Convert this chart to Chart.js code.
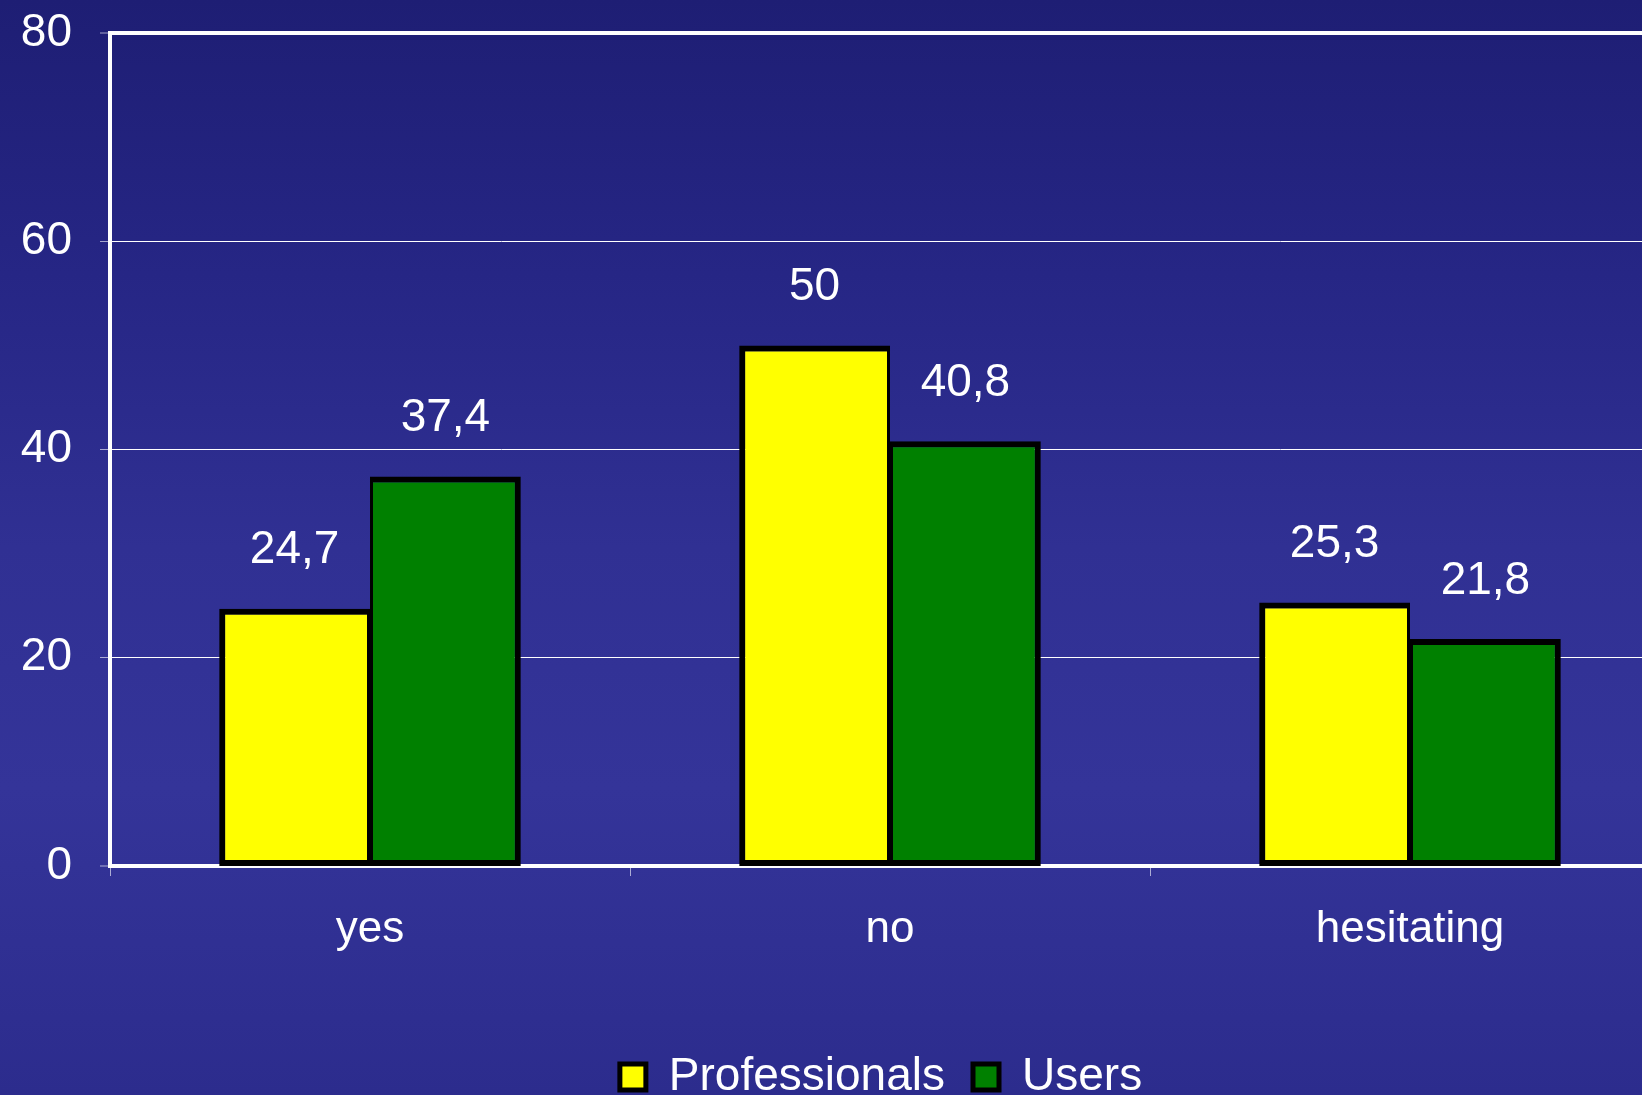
<!DOCTYPE html>
<html>
<head>
<meta charset="utf-8">
<script src="https://cdn.jsdelivr.net/npm/chart.js@4.4.0/dist/chart.umd.min.js"></script>
<style>
  html, body { margin: 0; padding: 0; overflow: hidden; width: 1642px; height: 1095px; }
  body { background: linear-gradient(to bottom, #1e1e74 0%, #262685 25%, #303093 50%, #343499 72%, #2c2c8d 100%); background-color: #2a2a8a; }
  #chartCanvas { display: block; }
</style>
</head>
<body>
<canvas id="chartCanvas" width="1680" height="1110"></canvas>
<script>
var answers = ["yes", "no", "hesitating"];
var professionalsList = [24.7, 50, 25.3];
var usersList = [37.4, 40.8, 21.8];
var yTicks = [0, 20, 40, 60, 80];

var fontName = "'Liberation Sans', Arial, sans-serif";

// value labels above the bars, decimal comma like the original
var valueLabels = {
  id: "valueLabels",
  afterDatasetsDraw: function (chart) {
    var ctx = chart.ctx;
    ctx.save();
    ctx.fillStyle = "#ffffff";
    ctx.font = "46px " + fontName;
    ctx.textAlign = "center";
    ctx.textBaseline = "middle";
    chart.data.datasets.forEach(function (ds, i) {
      chart.getDatasetMeta(i).data.forEach(function (bar, j) {
        var txt = String(ds.data[j]).replace(".", ",");
        ctx.fillText(txt, bar.x, bar.y - 58);
      });
    });
    ctx.restore();
  }
};

// legend sits a bit right of centre in the original
var legendShift = {
  id: "legendShift",
  afterLayout: function (chart) {
    chart.legend.left += 46;
    chart.legend.right += 46;
  }
};

var ctx = document.getElementById("chartCanvas");
var answerChart = new Chart(ctx, {
  type: "bar",
  data: {
    labels: answers,
    datasets: [
      {
        label: "Professionals",
        data: professionalsList,
        backgroundColor: "#ffff00",
        borderColor: "#000000",
        borderWidth: { top: 6, left: 6, bottom: 6, right: 3 },
        borderSkipped: false
      },
      {
        label: "Users",
        data: usersList,
        backgroundColor: "#008000",
        borderColor: "#000000",
        borderWidth: { top: 6, left: 3, bottom: 6, right: 6 },
        borderSkipped: false
      }
    ]
  },
  options: {
    responsive: false,
    animation: false,
    layout: { padding: { top: 0, right: 10, left: 0, bottom: 0 } },
    datasets: {
      bar: { categoryPercentage: 0.58, barPercentage: 1.0 }
    },
    plugins: {
      tooltip: { enabled: false },
      legend: {
        position: "bottom",
        labels: {
          color: "#ffffff",
          font: { family: fontName, size: 46 },
          boxWidth: 26,
          boxHeight: 26,
          padding: 28,
          generateLabels: function (chart) {
            return chart.data.datasets.map(function (ds, i) {
              return {
                text: ds.label,
                fillStyle: ds.backgroundColor,
                strokeStyle: "#000000",
                lineWidth: 5,
                fontColor: "#ffffff",
                datasetIndex: i
              };
            });
          }
        }
      }
    },
    scales: {
      x: {
        afterFit: function (scale) { scale.height = 160; },
        grid: {
          offset: true,
          drawOnChartArea: false,
          drawTicks: true,
          tickLength: 10,
          color: "rgba(255,255,255,0.6)",
          lineWidth: 1
        },
        border: { display: true, color: "#ffffff", width: 4 },
        ticks: {
          color: "#ffffff",
          padding: 27,
          font: { family: fontName, size: 44 }
        }
      },
      y: {
        min: 0,
        max: 80,
        afterFit: function (scale) {
          scale.width = 110;
          scale.paddingTop = 33;
          scale.paddingBottom = 0;
        },
        afterBuildTicks: function (scale) {
          scale.ticks = yTicks.map(function (v) { return { value: v }; });
        },
        grid: {
          color: "#ffffff",
          lineWidth: function (c) {
            if (c.tick.value === 80) return 4;
            if (c.tick.value === 0) return 0;
            return 1;
          },
          tickColor: "rgba(255,255,255,0.6)",
          tickWidth: 1,
          tickLength: 10
        },
        border: { display: true, color: "#ffffff", width: 4 },
        ticks: {
          color: "#ffffff",
          padding: 28,
          font: { family: fontName, size: 46 }
        }
      }
    }
  },
  plugins: [valueLabels, legendShift]
});
</script>
</body>
</html>
